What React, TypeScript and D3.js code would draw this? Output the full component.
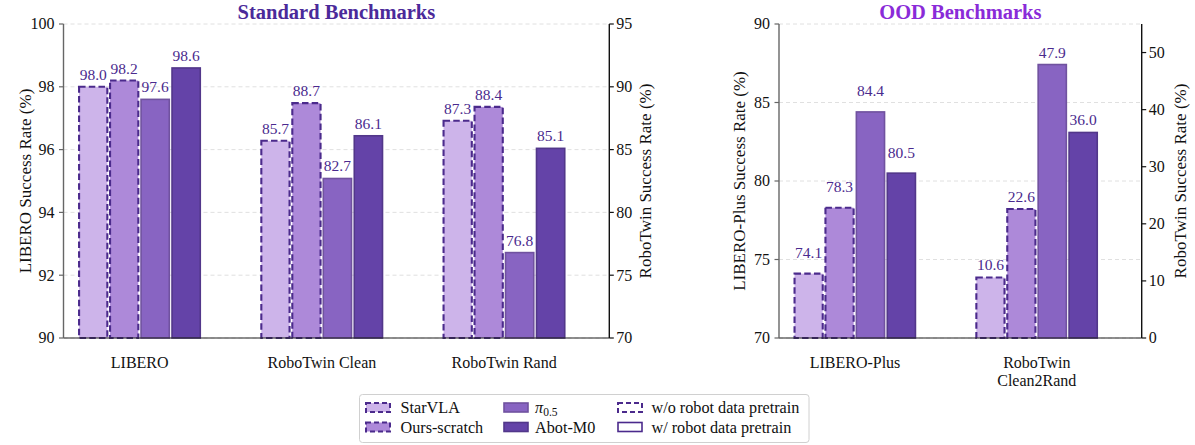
import React from "react";
import * as d3 from "d3";

// ---------- data ----------
const models = ["StarVLA", "Ours-scratch", "π0.5", "Abot-M0"];
const withoutPretrain = [true, true, false, false];

const standardCategories = ["LIBERO", "RoboTwin Clean", "RoboTwin Rand"];
const standardAxisOf = ["left", "right", "right"];
const stdStarVLA = [98.0, 85.7, 87.3];
const stdOursScratch = [98.2, 88.7, 88.4];
const stdPi05 = [97.6, 82.7, 76.8];
const stdAbotM0 = [98.6, 86.1, 85.1];
const stdLeftTicks = [90, 92, 94, 96, 98, 100];
const stdRightTicks = [70, 75, 80, 85, 90, 95];

const oodCategories = ["LIBERO-Plus", "RoboTwin\nClean2Rand"];
const oodAxisOf = ["left", "right"];
const oodStarVLA = [74.1, 10.6];
const oodOursScratch = [78.3, 22.6];
const oodPi05 = [84.4, 47.9];
const oodAbotM0 = [80.5, 36.0];
const oodLeftTicks = [70, 75, 80, 85, 90];
const oodRightTicks = [0, 10, 20, 30, 40, 50];

// ---------- styles ----------
const FILLS = ["#CDB4EA", "#AD89D9", "#8864C2", "#6443A8"];
const EDGE_DARK = "#4B2A8C";
const LABEL_COLOR = "#4A2A8E";
const FONT = "'Liberation Serif', 'DejaVu Serif', serif";

type PanelProps = {
  title: string;
  titleColor: string;
  categories: string[];
  axisOf: string[];
  series: number[][];
  leftDomain: [number, number];
  rightDomain: [number, number];
  leftTicks: number[];
  rightTicks: number[];
  leftLabel: string;
  rightLabel: string;
  x0: number;
  x1: number;
  leftLabelX: number;
  rightLabelX: number;
  labelGaps: number[];
};

const TOP = 24;
const BOTTOM = 338;

function Panel(p: PanelProps) {
  const n = p.categories.length;
  const x = d3.scaleLinear().domain([-0.418, n - 1 + 0.577]).range([p.x0, p.x1]);
  const yL = d3.scaleLinear().domain(p.leftDomain).range([BOTTOM, TOP]);
  const yR = d3.scaleLinear().domain(p.rightDomain).range([BOTTOM, TOP]);
  const step = 0.17;
  const bw = 0.155;
  const bwPx = x(bw) - x(0);
  const midY = (TOP + BOTTOM) / 2;

  return (
    <g>
      {/* gridlines */}
      {p.leftTicks.map((t) => (
        <line key={"g" + t} x1={p.x0} x2={p.x1} y1={yL(t)} y2={yL(t)}
          stroke="#dcdcdc" strokeWidth={0.9} strokeDasharray="4,3" />
      ))}
      {/* bars */}
      {p.categories.map((c, i) => {
        const y = p.axisOf[i] === "left" ? yL : yR;
        return p.series.map((vals, k) => {
          const v = vals[i];
          const cx = x(i + (k - 1.5) * step);
          const top = y(v);
          const dashed = withoutPretrain[k];
          const edge = dashed ? EDGE_DARK : d3.color(FILLS[k])!.darker(0.55).formatHex();
          return (
            <g key={c + k}>
              <rect x={cx - bwPx / 2} y={top} width={bwPx} height={BOTTOM - top}
                fill={FILLS[k]} stroke={edge} strokeWidth={dashed ? 2.1 : 1.6}
                strokeDasharray={dashed ? "6.5,3.2" : undefined} />
              <text x={cx} y={top - p.labelGaps[i]} textAnchor="middle"
                fontSize={15.5} fill={LABEL_COLOR} fontFamily={FONT}>
                {v.toFixed(1)}
              </text>
            </g>
          );
        });
      })}
      {/* spines */}
      <line x1={p.x0} x2={p.x1} y1={BOTTOM} y2={BOTTOM} stroke="#222" strokeWidth={1.2} />
      <line x1={p.x0} x2={p.x0} y1={TOP} y2={BOTTOM} stroke="#666" strokeWidth={1.4} />
      <line x1={p.x1} x2={p.x1} y1={TOP} y2={BOTTOM} stroke="#111" strokeWidth={1.4} />
      {/* left ticks */}
      {p.leftTicks.map((t) => (
        <g key={"l" + t}>
          <line x1={p.x0 - 4.5} x2={p.x0} y1={yL(t)} y2={yL(t)} stroke="#666" strokeWidth={1.2} />
          <text x={p.x0 - 9} y={yL(t)} dy="0.34em" textAnchor="end" fontSize={16}
            fontFamily={FONT} fill="#111">{t}</text>
        </g>
      ))}
      {/* right ticks */}
      {p.rightTicks.map((t) => (
        <g key={"r" + t}>
          <line x1={p.x1} x2={p.x1 + 4.5} y1={yR(t)} y2={yR(t)} stroke="#111" strokeWidth={1.2} />
          <text x={p.x1 + 7} y={yR(t)} dy="0.34em" textAnchor="start" fontSize={16}
            fontFamily={FONT} fill="#111">{t}</text>
        </g>
      ))}
      {/* x tick labels */}
      {p.categories.map((c, i) => (
        <text key={"x" + c} x={x(i)} y={368} textAnchor="middle" fontSize={16}
          fontFamily={FONT} fill="#111">
          {c.split("\n").map((line, j) => (
            <tspan key={j} x={x(i)} dy={j === 0 ? 0 : 17.5}>{line}</tspan>
          ))}
        </text>
      ))}
      {/* axis labels */}
      <text transform={`translate(${p.leftLabelX},${midY}) rotate(-90)`} textAnchor="middle"
        fontSize={17} fontFamily={FONT} fill="#111">{p.leftLabel}</text>
      <text transform={`translate(${p.rightLabelX},${midY}) rotate(-90)`} textAnchor="middle"
        fontSize={17} fontFamily={FONT} fill="#111">{p.rightLabel}</text>
      {/* title */}
      <text x={(p.x0 + p.x1) / 2} y={18.5} textAnchor="middle" fontSize={20.5}
        fontWeight="bold" fontFamily={FONT} fill={p.titleColor}>{p.title}</text>
    </g>
  );
}

function LegendPatch({ x, y, fill, dashed, edge }: { x: number; y: number; fill: string; dashed: boolean; edge: string }) {
  return (
    <rect x={x} y={y - 4.5} width={24} height={9} fill={fill} stroke={edge}
      strokeWidth={dashed ? 2 : 1.6} strokeDasharray={dashed ? "5,3" : undefined} />
  );
}

function Legend() {
  const rows = [407.5, 427];
  const cols = [366, 504, 618];
  const textX = [400.5, 535, 651.5];
  const entries = [
    { col: 0, row: 0, fill: FILLS[0], dashed: true, edge: EDGE_DARK, label: models[0] },
    { col: 0, row: 1, fill: FILLS[1], dashed: true, edge: EDGE_DARK, label: models[1] },
    { col: 1, row: 0, fill: FILLS[2], dashed: false, edge: d3.color(FILLS[2])!.darker(0.55).formatHex(), label: models[2] },
    { col: 1, row: 1, fill: FILLS[3], dashed: false, edge: d3.color(FILLS[3])!.darker(0.55).formatHex(), label: models[3] },
    { col: 2, row: 0, fill: "#ffffff", dashed: true, edge: EDGE_DARK, label: "w/o robot data pretrain" },
    { col: 2, row: 1, fill: "#ffffff", dashed: false, edge: EDGE_DARK, label: "w/ robot data pretrain" },
  ];
  return (
    <g>
      <rect x={359.5} y={394.5} width={449.5} height={48} rx={3} fill="#fff" stroke="#d0d0d0" strokeWidth={1} />
      {entries.map((e, i) => (
        <g key={i}>
          <LegendPatch x={cols[e.col]} y={rows[e.row]} fill={e.fill} dashed={e.dashed} edge={e.edge} />
          {e.label === "π0.5" ? (
            <text x={textX[e.col]} y={rows[e.row]} dy="0.35em" fontSize={16.2} fontFamily={FONT} fill="#111">
              <tspan fontStyle="italic">π</tspan>
              <tspan fontSize={11.5} dy={3}>0.5</tspan>
            </text>
          ) : (
            <text x={textX[e.col]} y={rows[e.row]} dy="0.35em" fontSize={16.2} fontFamily={FONT} fill="#111">
              {e.label}
            </text>
          )}
        </g>
      ))}
    </g>
  );
}

export default function App() {
  return (
    <svg width={1195} height={445} style={{ position: "absolute", left: 0, top: 0, background: "#fff" }}
      fontFamily={FONT}>
      <Panel
        title="Standard Benchmarks"
        titleColor="#4B2A9A"
        categories={standardCategories}
        axisOf={standardAxisOf}
        series={[stdStarVLA, stdOursScratch, stdPi05, stdAbotM0]}
        leftDomain={[90, 100]}
        rightDomain={[70, 95]}
        leftTicks={stdLeftTicks}
        rightTicks={stdRightTicks}
        leftLabel="LIBERO Success Rate (%)"
        rightLabel="RoboTwin Success Rate (%)"
        x0={63.5}
        x1={609.3}
        leftLabelX={30.5}
        rightLabelX={651}
        labelGaps={[7, 7, 7]}
      />
      <Panel
        title="OOD Benchmarks"
        titleColor="#8A2BD8"
        categories={oodCategories}
        axisOf={oodAxisOf}
        series={[oodStarVLA, oodOursScratch, oodPi05, oodAbotM0]}
        leftDomain={[70, 90]}
        rightDomain={[0, 55]}
        leftTicks={oodLeftTicks}
        rightTicks={oodRightTicks}
        leftLabel="LIBERO-Plus Success Rate (%)"
        rightLabel="RoboTwin Success Rate (%)"
        x0={779}
        x1={1141.7}
        leftLabelX={745}
        rightLabelX={1186}
        labelGaps={[15.5, 7]}
      />
      <Legend />
    </svg>
  );
}
